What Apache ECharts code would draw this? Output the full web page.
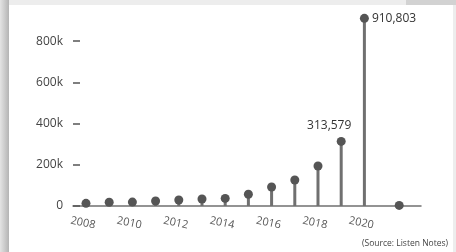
<!DOCTYPE html>
<html>
<head>
<meta charset="utf-8">
<script src="https://cdn.jsdelivr.net/npm/echarts@6/dist/echarts.min.js"></script>
<style>
	body{margin:0;background:#ededed;overflow:hidden;}
	#strip{position:absolute;left:0;top:0;width:9px;height:252px;background:linear-gradient(to right,#e4e4e4,#b4b4b4);}
	#corner{position:absolute;left:406px;top:0;width:50px;height:5px;background:#d2d2d2;}
	#card{position:absolute;left:9px;top:5px;width:444px;height:247px;background:#fff;}
	#main{position:absolute;left:0;top:0;width:456px;height:252px;}
</style>
</head>
<body>
<div id="strip"></div>
<div id="corner"></div>
<div id="card"></div>
<div id="main"></div>
<script>
// 年份（最后一个点是 2021 年未完整数据，画在 2021.5 处）
var years = [2008,2009,2010,2011,2012,2013,2014,2015,2016,2017,2018,2019,2020,2021.5];
var counts = [13000,18000,19000,24000,29000,34000,37000,57000,92000,126000,194000,313579,910803,3000];
var yearLabels = [2008,2010,2012,2014,2016,2018,2020];
var yTicks = [0,200000,400000,600000,800000];

var myChart = echarts.init(document.getElementById('main'));

var pts = [];
var stems = [];
for (var i = 0; i < years.length; i++) {
	stems.push([years[i], counts[i]]);
	var item = { value: [years[i], counts[i]] };
	if (years[i] == 2020) {
		item.label = { show: true, position: 'right', distance: 3 };
	} else if (years[i] == 2019) {
		item.label = { show: true, position: 'top', distance: 5, offset: [-12, 0] };
	}
	pts.push(item);
}

var font = '"Open Sans", "Noto Sans", sans-serif';

option = {
	backgroundColor: 'transparent',
	animation: false,
	grid: { left: 73, right: 35, top: 0, bottom: 46 },
	xAxis: {
		type: 'value',
		min: 2007.44,
		max: 2022.44,
		splitLine: { show: false },
		axisTick: { show: false },
		axisLine: { show: true, onZero: false, lineStyle: { color: '#707070', width: 1.5 } },
		axisLabel: {
			customValues: yearLabels,
			rotate: -12,
			align: 'center',
			verticalAlign: 'top',
			margin: 12,
			padding: [0, 4, 0, 0],
			color: '#555',
			fontSize: 11,
			fontFamily: font,
			formatter: function (v) {
				return String(v);
			}
		}
	},
	yAxis: {
		type: 'value',
		min: 0,
		max: 1000000,
		splitLine: { show: false },
		axisLine: { show: false },
		axisTick: {
			show: true,
			inside: true,
			length: 7,
			customValues: yTicks,
			lineStyle: { color: '#555', width: 1.5 }
		},
		axisLabel: {
			customValues: yTicks,
			margin: 10,
			color: '#444',
			fontSize: 12,
			fontFamily: font,
			formatter: function (v) {
				return v === 0 ? '0' : (v / 1000) + 'k';
			}
		}
	},
	graphic: [{
		type: 'text',
		right: 8,
		top: 239,
		style: {
			text: '(Source: Listen Notes)',
			fill: '#444',
			font: '8.5px ' + font
		}
	}],
	series: [{
		type: 'bar',
		barWidth: 3,
		itemStyle: { color: '#707070' },
		data: stems,
		silent: true
	}, {
		type: 'scatter',
		symbolSize: 9,
		itemStyle: { color: '#555', opacity: 1 },
		label: {
			color: '#333',
			fontSize: 12,
			fontFamily: font,
			formatter: function (p) {
				return p.value[1].toLocaleString('en-US');
			}
		},
		data: pts
	}]
};
myChart.setOption(option);
</script>
</body>
</html>
